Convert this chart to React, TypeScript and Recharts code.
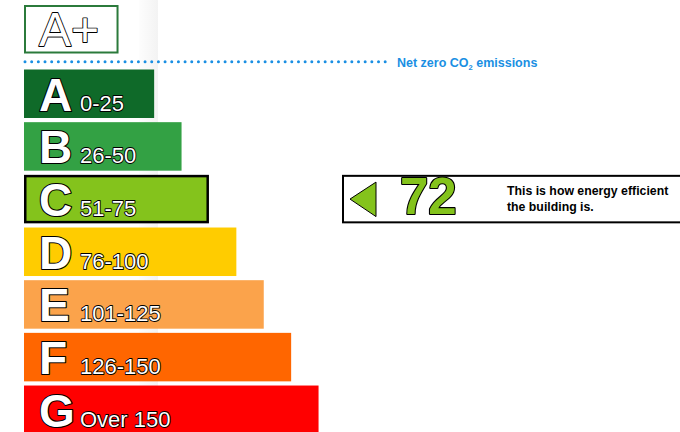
import React from 'react';
import { BarChart, Bar, XAxis, YAxis, LabelList } from 'recharts';

// rating bands
const CATEGORIES = ['A', 'B', 'C', 'D', 'E', 'F', 'G'];
const RANGES = ['0-25', '26-50', '51-75', '76-100', '101-125', '126-150', 'Over 150'];
const UPPER_LIMITS = [25, 50, 75, 100, 125, 150, Infinity];
const BAR_LENGTHS = [4.75, 5.75, 6.75, 7.75, 8.75, 9.75, 10.75];
const COLORS = ['#0f6a29', '#33a144', '#84c31c', '#ffcc00', '#fba34b', '#ff6600', '#ff0000'];

// net zero band
const TOP_BAND = ['A+'];
const TOP_LENGTH = [3.45];

const RATING = 72;
const NET_ZERO_LABEL = 'Net zero CO';
const NOTE_LINES = ['This is how energy efficient', 'the building is.'];

const FONT = '"Liberation Sans", Arial, Helvetica, sans-serif';
const DOMAIN: [number, number] = [0, 20];
const MARGIN_X = { left: 24, right: 108 };

const ratedIndex = UPPER_LIMITS.findIndex(u => RATING <= u);

const bandData = CATEGORIES.map((c, i) => ({ name: c, range: RANGES[i], length: BAR_LENGTHS[i] }));
const topData = TOP_BAND.map((c, i) => ({ name: c, length: TOP_LENGTH[i] }));

const BandShape = (p: any) => {
  const { x, y, width, height, index } = p;
  if (index === ratedIndex) {
    return (
      <rect x={x + 1.25} y={y + 1.25} width={width - 2.5} height={height - 2.5}
        fill={COLORS[index]} stroke="#000" strokeWidth={2.5} />
    );
  }
  return <rect x={x} y={y} width={width} height={height} fill={COLORS[index]} />;
};

const BandLabel = (p: any) => {
  const { x, y, height, value } = p;
  const i = RANGES.indexOf(value);
  const isRated = i === ratedIndex;
  const midY = y + height / 2;
  return (
    <g fontFamily={FONT}>
      <text x={x + 15} y={y + 41} fontSize={46} fontWeight="bold" fill="#fff" stroke="#000"
        strokeWidth={2.2} paintOrder="stroke" strokeLinejoin="round">
        {CATEGORIES[i]}
      </text>
      <text x={x + 56} y={y + 41} fontSize={22} fill="#fff" stroke="#000" strokeWidth={1.8}
        paintOrder="stroke" strokeLinejoin="round">
        {value}
      </text>
      {isRated && (
        <g>
          <rect x={343} y={y + 1} width={360} height={46.5} fill="#fff" stroke="#000" strokeWidth={2} />
          <polygon points={`350,${midY} 376,${midY - 17} 376,${midY + 17.5}`}
            fill={COLORS[i]} stroke="#000" strokeWidth={1} />
          <text x={400} y={midY + 15} fontSize={51} fontWeight="bold" fill={COLORS[i]} stroke="#000"
            strokeWidth={2.2} paintOrder="stroke" strokeLinejoin="round">
            {RATING}
          </text>
          <text x={507} y={midY - 4} fontSize={12.3} fontWeight="bold" fill="#000">{NOTE_LINES[0]}</text>
          <text x={507} y={midY + 12} fontSize={12.3} fontWeight="bold" fill="#000">{NOTE_LINES[1]}</text>
        </g>
      )}
    </g>
  );
};

const TopShape = (p: any) => {
  const { x, y, width, height } = p;
  return <rect x={x + 1} y={y + 1} width={width - 2} height={height - 2} fill="#fff" stroke="#2b7a3b" strokeWidth={2} />;
};

const TopLabel = (p: any) => {
  const { x, y, value } = p;
  return (
    <text x={x + 15} y={y + 40.5} fontFamily={FONT} fontSize={48} fill="#fff" stroke="#000"
      strokeWidth={1.8} paintOrder="stroke" strokeLinejoin="round">
      {value}
    </text>
  );
};

export default function App() {
  return (
    <div style={{ position: 'absolute', left: 0, top: 0, width: 680, height: 432, overflow: 'hidden', background: '#fff' }}>
      <svg width={680} height={432} style={{ position: 'absolute', left: 0, top: 0 }}>
        <defs>
          <linearGradient id="strip" x1="0" x2="1" y1="0" y2="0">
            <stop offset="0%" stopColor="#fdfdfd" />
            <stop offset="100%" stopColor="#f3f3f3" />
          </linearGradient>
        </defs>
        <rect x={139} y={0} width={19} height={432} fill="url(#strip)" />
        <line x1={25} y1={61.7} x2={388} y2={61.7} stroke="#1a8fe3" strokeWidth={3}
          strokeDasharray="0 6.67" strokeLinecap="round" />
        <text x={397} y={66.5} fontFamily={FONT} fontSize={12.5} fontWeight="bold" fill="#1a8fe3">
          {NET_ZERO_LABEL}
          <tspan fontSize={7.5} dy={3}>2</tspan>
          <tspan dy={-3}> emissions</tspan>
        </text>
      </svg>

      <div style={{ position: 'absolute', left: 0, top: 0 }}>
        <BarChart width={680} height={57.5} data={topData} layout="vertical"
          margin={{ top: 0, bottom: 0, ...MARGIN_X }}>
          <XAxis type="number" domain={DOMAIN} hide />
          <YAxis type="category" dataKey="name" hide />
          <Bar dataKey="length" barSize={48.5} shape={TopShape} isAnimationActive={false}>
            <LabelList dataKey="name" content={TopLabel} />
          </Bar>
        </BarChart>
      </div>

      <div style={{ position: 'absolute', left: 0, top: 0 }}>
        <BarChart width={680} height={440} data={bandData} layout="vertical"
          margin={{ top: 67.5, bottom: 3.8, ...MARGIN_X }}>
          <XAxis type="number" domain={DOMAIN} hide />
          <YAxis type="category" dataKey="name" hide />
          <Bar dataKey="length" barSize={48.5} shape={BandShape} isAnimationActive={false}>
            <LabelList dataKey="range" content={BandLabel} />
          </Bar>
        </BarChart>
      </div>
    </div>
  );
}
